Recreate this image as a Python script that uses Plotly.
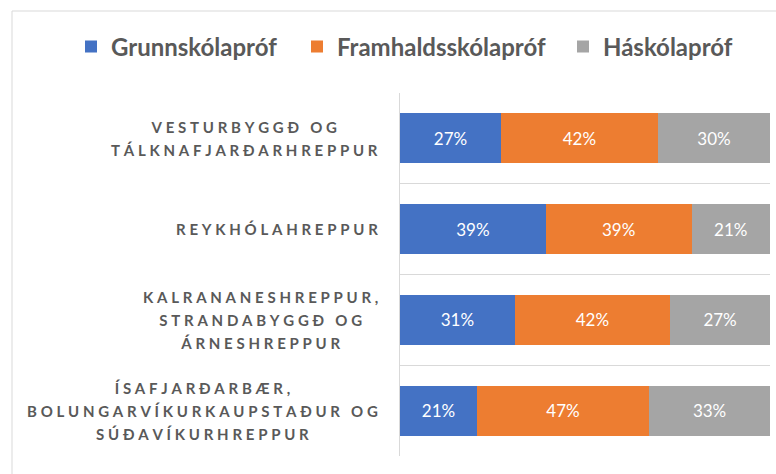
import plotly.graph_objects as go

# ---- data ----
regions = [
    ["VESTURBYGGÐ OG", "TÁLKNAFJARÐARHREPPUR"],
    ["REYKHÓLAHREPPUR"],
    ["KALRANANESHREPPUR,", "STRANDABYGGÐ OG", "ÁRNESHREPPUR"],
    ["ÍSAFJARÐARBÆR,", "BOLUNGARVÍKURKAUPSTAÐUR OG", "SÚÐAVÍKURHREPPUR"],
]
series_names = ["Grunnskólapróf", "Framhaldsskólapróf", "Háskólapróf"]
grunnskola = [27, 39, 31, 21]
framhalds = [42, 39, 42, 47]
haskola = [30, 21, 27, 33]
colors = ["#4472C4", "#ED7D31", "#A5A5A5"]

W, H = 776, 474
PX0, PX1 = 400, 770   # plot area, pixels
PY0, PY1 = 93, 456
LEGEND_X = [71, 297, 563]   # left edge of each legend entry, pixels

cats = [" ".join(r) for r in regions]
values = [grunnskola, framhalds, haskola]
legend_ids = ["legend", "legend2", "legend3"]

SP = "\u2005"


def spaced(s):
    return SP.join(list(s))


fig = go.Figure()
for name, vals, col, lid in zip(series_names, values, colors, legend_ids):
    fig.add_trace(go.Bar(
        y=cats, x=vals, name=name, orientation="h", legend=lid,
        marker=dict(color=col, line=dict(width=0)),
        text=[f"{v}%" for v in vals],
        textposition="inside", insidetextanchor="middle",
        textangle=0, constraintext="none",
        textfont=dict(family="Lato", size=17, color="#FFFFFF"),
        hoverinfo="skip",
    ))

annotations = []
for c, lines in zip(cats, regions):
    txt = "<br>".join(spaced(l) for l in lines)
    annotations.append(dict(
        xref="paper", yref="y", x=(PX0 - 20) / W, y=c,
        xanchor="right", yanchor="middle",
        align="center", showarrow=False,
        text=f'<span style="font-size:15px">{txt}</span>',
        font=dict(family="Lato", size=17.5, color="#595959", weight="bold"),
    ))

legend_common = dict(
    orientation="h", xref="paper", yref="paper",
    y=1 - 47 / H, xanchor="left", yanchor="middle",
    font=dict(family="Lato", size=24, color="#595959", weight="bold"),
    itemclick=False, itemdoubleclick=False, bgcolor="rgba(0,0,0,0)",
)

fig.update_layout(
    width=W, height=H,
    margin=dict(l=0, r=0, t=0, b=0, pad=0, autoexpand=False),
    paper_bgcolor="white", plot_bgcolor="white",
    barmode="stack", barnorm="percent", bargap=0.45,
    font=dict(family="Lato", color="#595959"),
    showlegend=True,
    legend=dict(x=LEGEND_X[0] / W, **legend_common),
    legend2=dict(x=LEGEND_X[1] / W, **legend_common),
    legend3=dict(x=LEGEND_X[2] / W, **legend_common),
    xaxis=dict(domain=[PX0 / W, PX1 / W], range=[0, 100],
               showgrid=False, zeroline=False,
               showticklabels=False, showline=False, ticks=""),
    yaxis=dict(domain=[1 - PY1 / H, 1 - PY0 / H],
               autorange="reversed", tickson="boundaries",
               showgrid=True, gridcolor="#D9D9D9", gridwidth=1,
               showline=True, linecolor="#D9D9D9", linewidth=1,
               showticklabels=False, ticks="", zeroline=False),
    annotations=annotations,
    shapes=[dict(type="rect", xref="paper", yref="paper",
                 x0=12 / W, x1=(W + 5) / W, y0=-5 / H, y1=1 - 11 / H,
                 line=dict(color="#D9D9D9", width=1), layer="below")],
)

fig.write_html(
    "out.html",
    config={"displayModeBar": False},
    post_script="document.body.style.margin='0';document.body.style.padding='0';",
)
